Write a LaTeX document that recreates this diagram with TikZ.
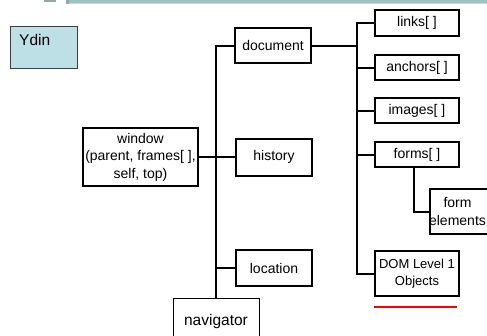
\documentclass[tikz,border=0pt]{standalone}
\usepackage{fontspec}
\setmainfont{Liberation Sans}
\definecolor{ydinfill}{HTML}{BCE0E5}
\definecolor{barcol}{HTML}{9CC4BF}
\begin{document}
\begin{tikzpicture}[x=1pt,y=-1pt,
  box/.style={draw=black, line width=2pt, rectangle, inner sep=1pt, align=center,
    font=\fontsize{14}{17.5}\selectfont},
  conn/.style={draw=black, line width=2pt},
  thinbox/.style={draw=black, line width=1pt, rectangle, align=center,
    font=\fontsize{15.5}{18}\selectfont}]
\clip (0,0) rectangle (487,335);
\fill[white] (0,0) rectangle (487,335);
% top bar
\fill[barcol] (66,0) rectangle (487,2.6);
\draw[gray!35, line width=0.6pt] (68,3.4) -- (487,3.4);
\fill[barcol!60!gray] (44,0) rectangle (56,2);
\fill[barcol!60!gray] (66,0) rectangle (69,4);
% Ydin
\node[draw=black!75, line width=1pt, fill=ydinfill, minimum width=67, minimum height=42,
  anchor=north west, inner sep=0pt] (ydin) at (10,26) {};
\node[anchor=base west, inner sep=0pt, font=\fontsize{15.5}{17}\selectfont] (ydintext) at (19,45) {Ydin};
% boxes
\node[box, minimum width=76, minimum height=35] (document) at (273,45.5) {document};
\node[box, minimum width=76, minimum height=37] (history) at (274,157) {history};
\node[box, minimum width=76, minimum height=36] (location) at (274,268) {location};
\node[box, minimum width=115, minimum height=58] (window) at (140.5,157) {window\\(parent, frames[ ],\\self, top)};
\node[thinbox, minimum width=86, minimum height=46, anchor=north] (navigator) at (216,297.5) {navigator};
\node[box, minimum width=84, minimum height=26] (links) at (417,23) {links[ ]};
\node[box, minimum width=84, minimum height=25] (anchors) at (417,67.5) {anchors[ ]};
\node[box, minimum width=84, minimum height=25] (images) at (417,110.5) {images[ ]};
\node[box, minimum width=84, minimum height=25] (forms) at (417,154.5) {forms[ ]};
\node[box, minimum width=62, minimum height=45] (formel) at (461,211.5) {};
\node[align=center, inner sep=0pt, font=\fontsize{14}{17.5}\selectfont] (formeltext) at (457.5,211.5) {form\\elements};
\node[box, minimum width=84, minimum height=45, font=\fontsize{13}{17}\selectfont] (dom) at (417,273.5) {DOM Level 1\\Objects};
% trunk 1
\draw[conn] (document.west) -| (navigator.north);
\draw[conn] (window.east) -- (history.west);
\draw[conn] (location.west) -- (location.west -| navigator.north);
% trunk 2
\coordinate (t2) at (357,0);
\draw[conn] (document.east) -- (document.east -| t2);
\draw[conn] (links.west) -- (links.west -| t2) -- (dom.west -| t2) -- (dom.west);
\draw[conn] (anchors.west) -- (anchors.west -| t2);
\draw[conn] (images.west) -- (images.west -| t2);
\draw[conn] (forms.west) -- (forms.west -| t2);
\coordinate (fx) at (414,0);
\draw[conn] (forms.south -| fx) |- (formel.west);
% red underline
\draw[red, line width=1.6pt] ([yshift=-10pt]dom.south west) -- ([xshift=-3pt,yshift=-10pt]dom.south east);
\end{tikzpicture}
\end{document}
